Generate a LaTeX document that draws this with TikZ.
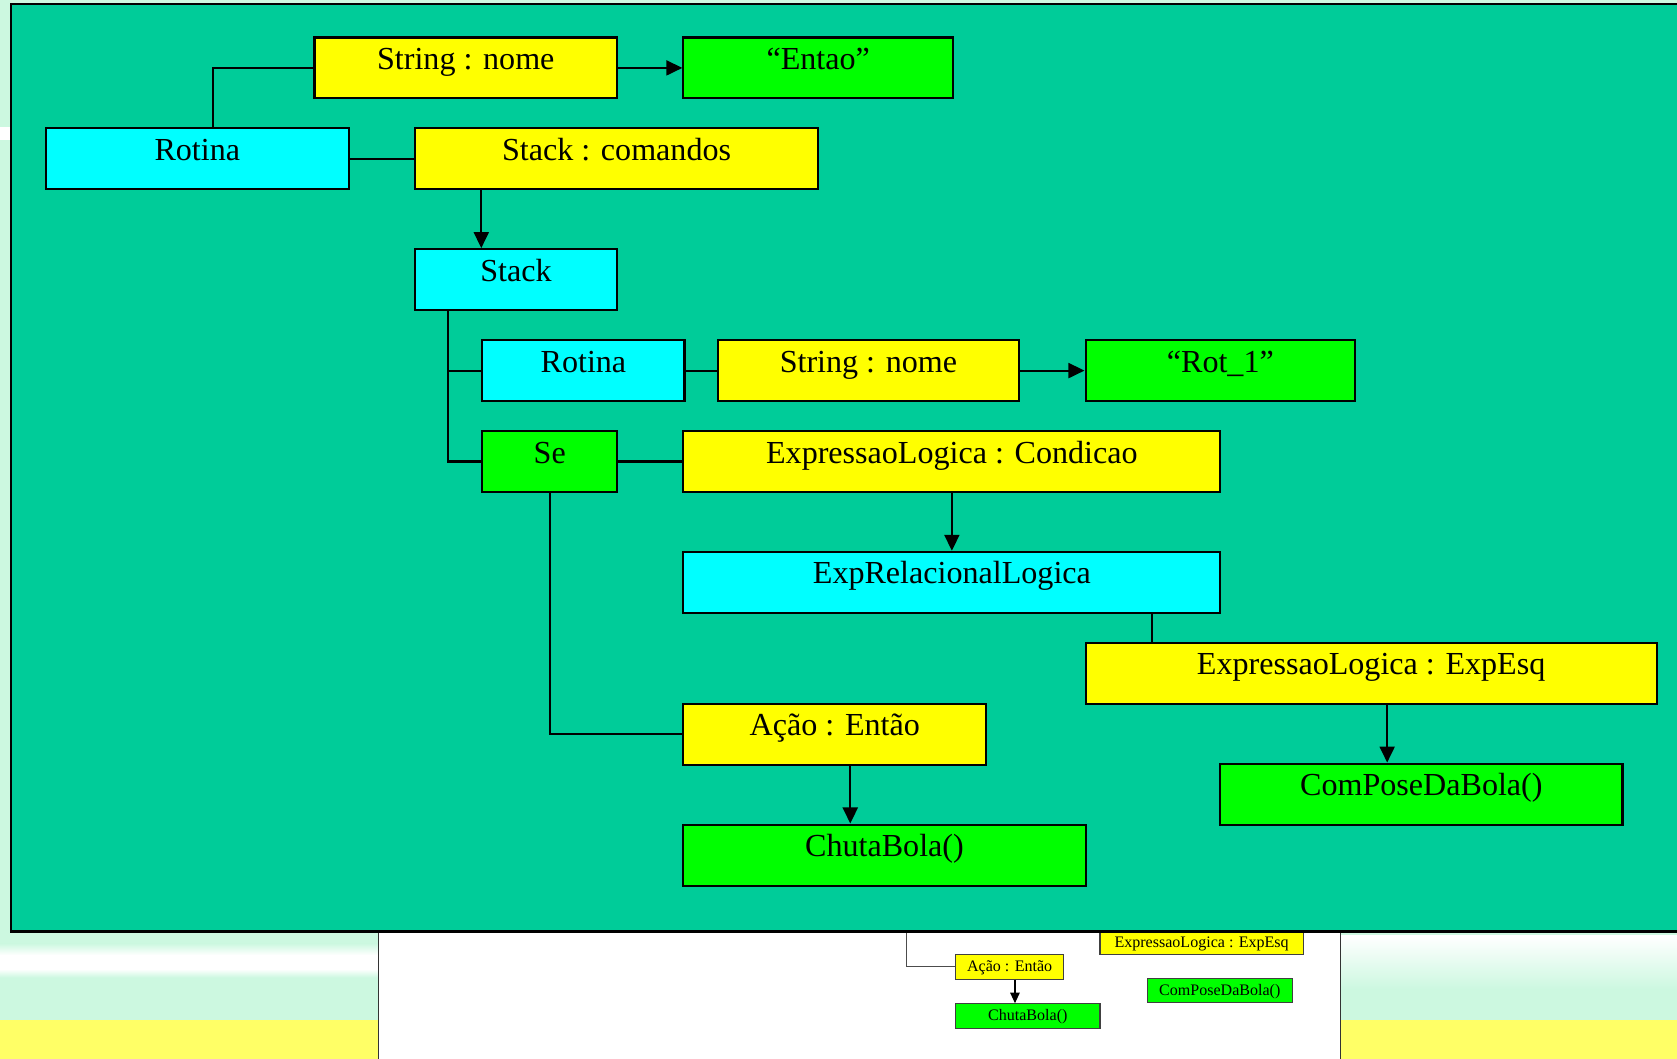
\documentclass[tikz,border=0pt]{standalone}
\usepackage{fontspec}
\setmainfont{Liberation Serif}
\usetikzlibrary{arrows.meta}
\definecolor{teal}{HTML}{00CC99}
\definecolor{byellow}{HTML}{FFFF00}
\definecolor{bcyan}{HTML}{00FFFF}
\definecolor{bgreen}{HTML}{00FF00}
\definecolor{mint}{HTML}{CCF8E0}
\definecolor{paleyellow}{HTML}{FFFF66}
\tikzset{
  box/.style={draw=black, line width=2pt, rectangle, inner sep=0pt, anchor=north west,
    minimum height=57pt, text height=30pt, text depth=27pt,
    font=\fontsize{30}{36}\selectfont},
  sbox/.style={draw=black!75, line width=1pt, rectangle, inner sep=0pt, anchor=north west,
    minimum height=23pt, text height=16pt, text depth=7pt,
    font=\fontsize{15}{18}\selectfont},
  conn/.style={draw=black, line width=2pt},
  arr/.style={conn, -{Triangle[length=15pt,width=14pt]}},
  sconn/.style={draw=black!70, line width=1pt},
  sarr/.style={draw=black, line width=1pt, -{Triangle[length=10pt,width=9pt]}},
}
\begin{document}
\begin{tikzpicture}[x=1pt,y=-1pt]
\useasboundingbox (0,0) rectangle (1568,990);
% background slide
\fill[white] (0,0) rectangle (1568,990);
\fill[mint] (0,0) rectangle (354,990);
\fill[mint] (1253,0) rectangle (1568,990);
\fill[mint] (0,0) rectangle (1568,10);
\shade[top color=mint, bottom color=white] (0,882) rectangle (354,893);
\fill[white] (0,893) rectangle (354,906);
\shade[top color=white, bottom color=mint] (0,906) rectangle (354,914);
\shade[top color=white, bottom color=mint] (1253,875) rectangle (1568,925);
\fill[white] (0,119) rectangle (12,131);
\fill[paleyellow] (0,954) rectangle (354,990);
\fill[paleyellow] (1253,954) rectangle (1568,990);
\draw[black!80, line width=1pt] (354,860) -- (354,990);
\draw[black!80, line width=1pt] (1253,860) -- (1253,990);
% underlying small diagram
\node[sbox, fill=byellow, minimum width=101pt] (sac) at (893,892) {Ação : Então};
\node[sbox, fill=bgreen, minimum width=135pt] (scb) at (893,938) {ChutaBola()};
\node[sbox, fill=byellow, minimum width=190pt] (sele) at (1028,869) {ExpressaoLogica : ExpEsq};
\node[sbox, fill=bgreen, minimum width=136pt] (scp) at (1072,914) {ComPoseDaBola()};
\coordinate (sup) at (848,860);
\draw[sconn] (sup) |- (sac.west);
\draw[sarr] ([xshift=56pt]sac.south west) -- ([xshift=56pt]scb.north west);
% main panel
\fill[teal] (10,4) rectangle (1575,871);
\draw[black, line width=2pt] (1575,4) -- (10,4) -- (10,871) -- (1575,871);
% boxes
\node[box, fill=byellow, minimum width=283pt] (s1) at (293,34) {String : nome};
\node[box, fill=bgreen, minimum width=252pt] (e1) at (638,34) {“Entao”};
\node[box, fill=bcyan, minimum width=283pt] (r1) at (42,119) {Rotina};
\node[box, fill=byellow, minimum width=377pt] (sc) at (387,119) {Stack : comandos};
\node[box, fill=bcyan, minimum width=189pt] (st) at (387,232) {Stack};
\node[box, fill=bcyan, minimum width=189pt] (r2) at (450,317) {Rotina};
\node[box, fill=byellow, minimum width=282pt] (s2) at (670,317) {String : nome};
\node[box, fill=bgreen, minimum width=252pt] (rot) at (1014,317) {“Rot\_1”};
\node[box, fill=bgreen, minimum width=126pt] (se) at (450,402) {Se};
\node[box, fill=byellow, minimum width=502pt] (elc) at (638,402) {ExpressaoLogica : Condicao};
\node[box, fill=bcyan, minimum width=502pt] (erl) at (638,515) {ExpRelacionalLogica};
\node[box, fill=byellow, minimum width=534pt] (ele) at (1014,600) {ExpressaoLogica : ExpEsq};
\node[box, fill=bgreen, minimum width=376pt] (cp) at (1140,713) {ComPoseDaBola()};
\node[box, fill=byellow, minimum width=283pt] (ac) at (638,657) {Ação : Então};
\node[box, fill=bgreen, minimum width=376pt] (cb) at (638,770) {ChutaBola()};
% connectors
\draw[conn] ([xshift=157pt]r1.north west) |- (s1.west);
\draw[arr] (s1.east) -- (e1.west);
\draw[conn] (r1.east) -- (sc.west);
\draw[arr] ([xshift=63pt]sc.south west) -- ([xshift=63pt]st.north west);
\draw[conn] ([xshift=32pt]st.south west) |- (r2.west);
\draw[conn] ([xshift=32pt]st.south west) |- (se.west);
\draw[conn] (r2.east) -- (s2.west);
\draw[arr] (s2.east) -- (rot.west);
\draw[conn] (se.east) -- (elc.west);
\draw[arr] (elc.south) -- (erl.north);
\draw[conn] ([xshift=439pt]erl.south west) -- ([xshift=63pt]ele.north west);
\draw[arr] ([xshift=283pt]ele.south west) -- ([xshift=157pt]cp.north west);
\draw[conn] (se.south) |- (ac.west);
\draw[arr] ([xshift=157pt]ac.south west) -- ([xshift=157pt]cb.north west);
\end{tikzpicture}
\end{document}
